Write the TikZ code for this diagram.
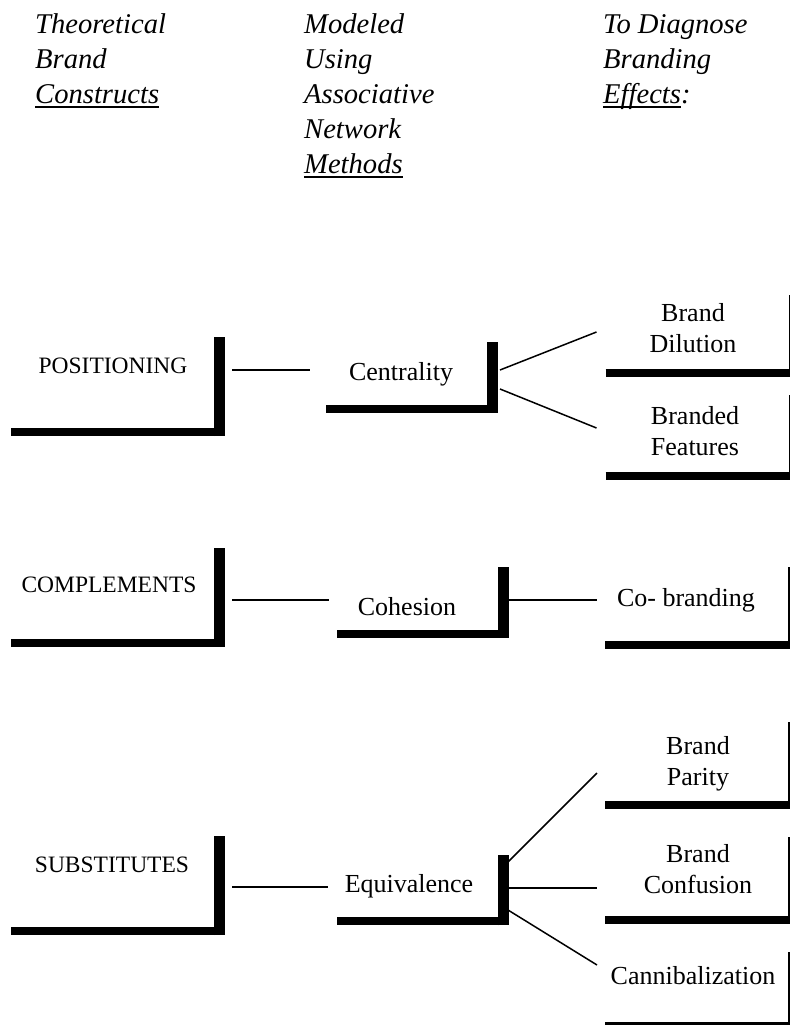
\documentclass[tikz,border=0pt]{standalone}
\usepackage{fontspec}
\setmainfont{Liberation Serif}
\newsavebox\undlbox
\newcommand{\undl}[1]{\sbox\undlbox{#1}\rlap{\rule[-4.5pt]{\wd\undlbox}{1.5pt}}\usebox\undlbox}

\begin{document}
\begin{tikzpicture}[
        x=1pt, y=-1pt,
        head/.style = {anchor=base west, align=left, inner sep=0pt, font=\fontsize{28.6}{35}\selectfont\itshape},
        caps/.style = {anchor=base, inner sep=0pt, font=\fontsize{23.5}{28}\selectfont},
        word/.style = {anchor=base, align=center, inner sep=0pt, font=\fontsize{26}{31}\selectfont},
        bigframe/.style = {rectangle, inner sep=0pt, outer sep=0pt, minimum width=208.5pt, minimum height=95pt},
        midframe/.style = {rectangle, inner sep=0pt, outer sep=0pt, minimum width=166pt, minimum height=66.5pt},
        endframe/.style = {rectangle, inner sep=0pt, outer sep=0pt, minimum width=184pt, minimum height=#1},
        endframe/.default = 80pt,
        hbar/.style = {line width=8pt},
        vbar/.style = {line width=11pt},
        thinbar/.style = {line width=1.5pt},
        link/.style = {line width=1.5pt},
    ]
    \useasboundingbox (0,0) rectangle (790,1025);

    % column heads (base = last line)
    \node[head] (theo) at (35,103) {Theoretical\\Brand\\\undl{Constructs}};
    \node[head] (model) at (304,173) {Modeled\\Using\\Associative\\Network\\\undl{Methods}};
    \node[head] (diag) at (603,103) {To Diagnose\\Branding\\\undl{Effects}:};

    % frames
    \node[bigframe] (posf) at (115.25,384.5) {};
    \node[bigframe] (compf) at (115.25,595.25) {};
    \node[bigframe] (subsf) at (115.25,883.5) {};
    \node[midframe] (centf) at (409,375.25) {};
    \node[midframe] (cohf) at (420,600.5) {};
    \node[midframe] (equif) at (420,888) {};
    \node[endframe=77.5pt] (dilf) at (697.5,333.75) {};
    \node[endframe=81pt] (featf) at (697.5,435.5) {};
    \node[endframe=77.5pt] (cobf) at (697,605.75) {};
    \node[endframe=83pt] (parf) at (697,763.5) {};
    \node[endframe=82.5pt] (conff) at (697,878.25) {};
    \node[endframe=74pt] (cannf) at (697,989) {};

    \foreach \f in {posf,compf,subsf,centf,cohf,equif}{
        \draw[hbar] (\f.south west) -- ([xshift=5.5pt]\f.south east);
        \draw[vbar] ([yshift=-4pt]\f.south east) -- (\f.north east);
    }
    \foreach \f in {dilf,featf,cobf,parf,conff,cannf}{
        \draw[hbar] (\f.south west) -- ([xshift=0.75pt]\f.south east);
        \draw[thinbar] (\f.south east) -- (\f.north east);
    }

    % labels
    \node[caps] (pos) at (113,373) {POSITIONING};
    \node[word] (cent) at (401,380) {Centrality};
    \node[word] (dil) at (693,352) {Brand\\Dilution};
    \node[word] (feat) at (695,455) {Branded\\Features};
    \node[caps] (comp) at (109,592) {COMPLEMENTS};
    \node[word] (coh) at (407,615) {Cohesion};
    \node[word] (cob) at (686,606) {Co- branding};
    \node[caps] (subs) at (112,872) {SUBSTITUTES};
    \node[word] (equi) at (409,892) {Equivalence};
    \node[word] (par) at (698,785) {Brand\\Parity};
    \node[word] (conf) at (698,893) {Brand\\Confusion};
    \node[word] (cann) at (693,984) {Cannibalization};

    % positioning
    \draw[link] ([shift={(12.5,-14.5)}]posf.east) -- ([shift={(-16,-5.25)}]centf.west);
    \draw[link] ([shift={(8,-5.25)}]centf.east) -- ([shift={(-9,-1.75)}]dilf.west);
    \draw[link] ([shift={(8,13.75)}]centf.east) -- ([shift={(-9,-7.5)}]featf.west);
    % complements
    \draw[link] ([shift={(12.5,4.75)}]compf.east) -- ([shift={(-8,-0.5)}]cohf.west);
    \draw[link] ([shift={(5,-0.5)}]cohf.east) -- ([shift={(-8,-5.75)}]cobf.west);
    % substitutes
    \draw[link] ([shift={(12.5,3.5)}]subsf.east) -- ([shift={(-9,-1)}]equif.west);
    \draw[link] ([shift={(5,-26)}]equif.east) -- ([shift={(-8,9.5)}]parf.west);
    \draw[link] ([shift={(5,0)}]equif.east) -- ([shift={(-8,9.75)}]conff.west);
    \draw[link] ([shift={(5,22)}]equif.east) -- ([shift={(-8,-24)}]cannf.west);
\end{tikzpicture}
\end{document}
